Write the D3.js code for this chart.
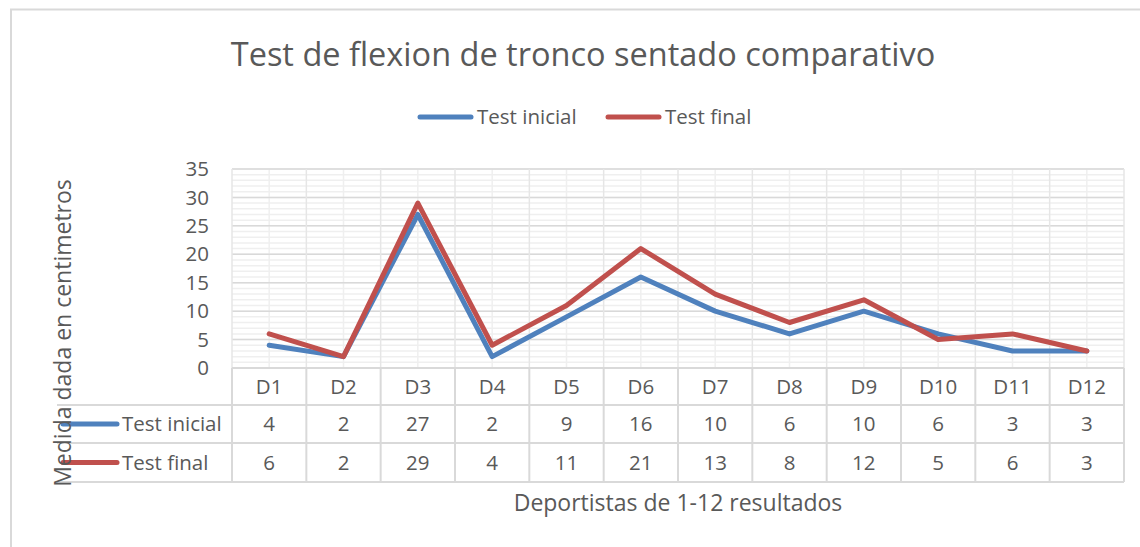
<!DOCTYPE html>
<html>
<head>
<meta charset="utf-8">
<script src="https://cdn.jsdelivr.net/npm/d3@7"></script>
<style>
  body { margin: 0; background: #fff; }
  svg text { font-family: "Open Sans", "Liberation Sans", sans-serif; fill: #595959; }
</style>
</head>
<body>
<div id="chart"></div>
<script>
var categories = ["D1", "D2", "D3", "D4", "D5", "D6", "D7", "D8", "D9", "D10", "D11", "D12"];
var testInicial = [4, 2, 27, 2, 9, 16, 10, 6, 10, 6, 3, 3];
var testFinal = [6, 2, 29, 4, 11, 21, 13, 8, 12, 5, 6, 3];
var seriesNames = ["Test inicial", "Test final"];
var yTicks = [0, 5, 10, 15, 20, 25, 30, 35];

var width = 1140, height = 547;
var plot = { left: 232, right: 1124, top: 169, bottom: 368 };
var rowH = [37, 38, 39];
var tableLeft = 57;
var colors = ["#4f81bd", "#c0504d"];
var series = [testInicial, testFinal];
var fs = "20.5px";

var svg = d3.select("#chart").append("svg")
    .attr("width", width)
    .attr("height", height);

// outer frame
svg.append("rect")
    .attr("x", 11).attr("y", 9.5)
    .attr("width", 1160).attr("height", 560)
    .attr("fill", "none")
    .attr("stroke", "#d9d9d9")
    .attr("stroke-width", 2);

var x = d3.scaleBand()
    .domain(categories)
    .range([plot.left, plot.right]);

var y = d3.scaleLinear()
    .domain([0, 35])
    .range([plot.bottom, plot.top]);

// minor horizontal gridlines
svg.append("g").selectAll("line")
    .data(d3.range(0, 36, 1))
    .enter().append("line")
    .attr("x1", plot.left).attr("x2", plot.right)
    .attr("y1", d => y(d)).attr("y2", d => y(d))
    .attr("stroke", "#efefef").attr("stroke-width", 1.5);

// minor vertical gridlines at category centers
svg.append("g").selectAll("line")
    .data(categories)
    .enter().append("line")
    .attr("x1", d => x(d) + x.bandwidth() / 2).attr("x2", d => x(d) + x.bandwidth() / 2)
    .attr("y1", plot.top).attr("y2", plot.bottom)
    .attr("stroke", "#efefef").attr("stroke-width", 1.5);

// major horizontal gridlines
svg.append("g").selectAll("line")
    .data(yTicks)
    .enter().append("line")
    .attr("x1", plot.left).attr("x2", plot.right)
    .attr("y1", d => y(d)).attr("y2", d => y(d))
    .attr("stroke", "#d9d9d9").attr("stroke-width", 1.5);

// major vertical gridlines at boundaries
svg.append("g").selectAll("line")
    .data(categories.concat(["end"]))
    .enter().append("line")
    .attr("x1", (d, i) => plot.left + i * x.bandwidth())
    .attr("x2", (d, i) => plot.left + i * x.bandwidth())
    .attr("y1", plot.top).attr("y2", plot.bottom)
    .attr("stroke", "#e6e6e6").attr("stroke-width", 1.5);

// y tick labels
svg.append("g").selectAll("text")
    .data(yTicks)
    .enter().append("text")
    .attr("x", 209)
    .attr("y", d => y(d))
    .attr("dy", "0.35em")
    .attr("text-anchor", "end")
    .style("font-size", fs)
    .text(d => d);

// data table
var rowTops = [plot.bottom, plot.bottom + rowH[0], plot.bottom + rowH[0] + rowH[1]];
var tableBottom = rowTops[2] + rowH[2];
var tg = svg.append("g");

// horizontal table lines
tg.append("line")
    .attr("x1", plot.left).attr("x2", plot.right)
    .attr("y1", rowTops[0]).attr("y2", rowTops[0])
    .attr("stroke", "#d9d9d9").attr("stroke-width", 2);
[rowTops[1], rowTops[2], tableBottom].forEach(function(yy) {
  tg.append("line")
    .attr("x1", tableLeft).attr("x2", plot.right)
    .attr("y1", yy).attr("y2", yy)
    .attr("stroke", "#d9d9d9").attr("stroke-width", 2);
});
// vertical table lines
tg.selectAll(".vline")
    .data(categories.concat(["end"]))
    .enter().append("line")
    .attr("class", "vline")
    .attr("x1", (d, i) => plot.left + i * x.bandwidth())
    .attr("x2", (d, i) => plot.left + i * x.bandwidth())
    .attr("y1", rowTops[0]).attr("y2", tableBottom)
    .attr("stroke", "#d9d9d9").attr("stroke-width", 2);

// header labels
tg.selectAll(".cat")
    .data(categories)
    .enter().append("text")
    .attr("class", "cat")
    .attr("x", d => x(d) + x.bandwidth() / 2)
    .attr("y", rowTops[0] + rowH[0] / 2)
    .attr("dy", "0.35em")
    .attr("text-anchor", "middle")
    .style("font-size", fs)
    .text(d => d);

// value rows
series.forEach(function(vals, si) {
  var cy = rowTops[si + 1] + rowH[si + 1] / 2;
  tg.selectAll(".val" + si)
    .data(vals)
    .enter().append("text")
    .attr("x", (d, i) => x(categories[i]) + x.bandwidth() / 2)
    .attr("y", cy)
    .attr("dy", "0.35em")
    .attr("text-anchor", "middle")
    .style("font-size", fs)
    .text(d => d);
  tg.append("line")
    .attr("x1", 63).attr("x2", 117)
    .attr("y1", cy).attr("y2", cy)
    .attr("stroke", colors[si]).attr("stroke-width", 5)
    .attr("stroke-linecap", "round");
  tg.append("text")
    .attr("x", 122).attr("y", cy)
    .attr("dy", "0.35em")
    .style("font-size", fs)
    .text(seriesNames[si]);
});

// lines
var line = d3.line()
    .x((d, i) => x(categories[i]) + x.bandwidth() / 2)
    .y(d => y(d));

svg.append("g").selectAll("path")
    .data(series)
    .enter().append("path")
    .attr("d", d => line(d))
    .attr("fill", "none")
    .attr("stroke", (d, i) => colors[i])
    .attr("stroke-width", 5)
    .attr("stroke-linejoin", "round")
    .attr("stroke-linecap", "round");

// title
svg.append("text")
    .attr("x", 583).attr("y", 55)
    .attr("dy", "0.35em")
    .attr("text-anchor", "middle")
    .style("font-size", "32.5px")
    .text("Test de flexion de tronco sentado comparativo");

// legend
var legendItems = [{ x: 418, name: seriesNames[0], c: colors[0] }, { x: 606, name: seriesNames[1], c: colors[1] }];
var lg = svg.append("g");
legendItems.forEach(function(it) {
  lg.append("line")
    .attr("x1", it.x + 2).attr("x2", it.x + 53)
    .attr("y1", 117).attr("y2", 117)
    .attr("stroke", it.c).attr("stroke-width", 5)
    .attr("stroke-linecap", "round");
  lg.append("text")
    .attr("x", it.x + 59).attr("y", 117)
    .attr("dy", "0.35em")
    .style("font-size", fs)
    .text(it.name);
});

// axis titles
svg.append("text")
    .attr("transform", "translate(63,333) rotate(-90)")
    .attr("dy", "0.35em")
    .attr("text-anchor", "middle")
    .style("font-size", "23px")
    .text("Medida dada en centimetros");

svg.append("text")
    .attr("x", 678).attr("y", 503)
    .attr("dy", "0.35em")
    .attr("text-anchor", "middle")
    .style("font-size", "23px")
    .text("Deportistas de 1-12 resultados");
</script>
</body>
</html>
